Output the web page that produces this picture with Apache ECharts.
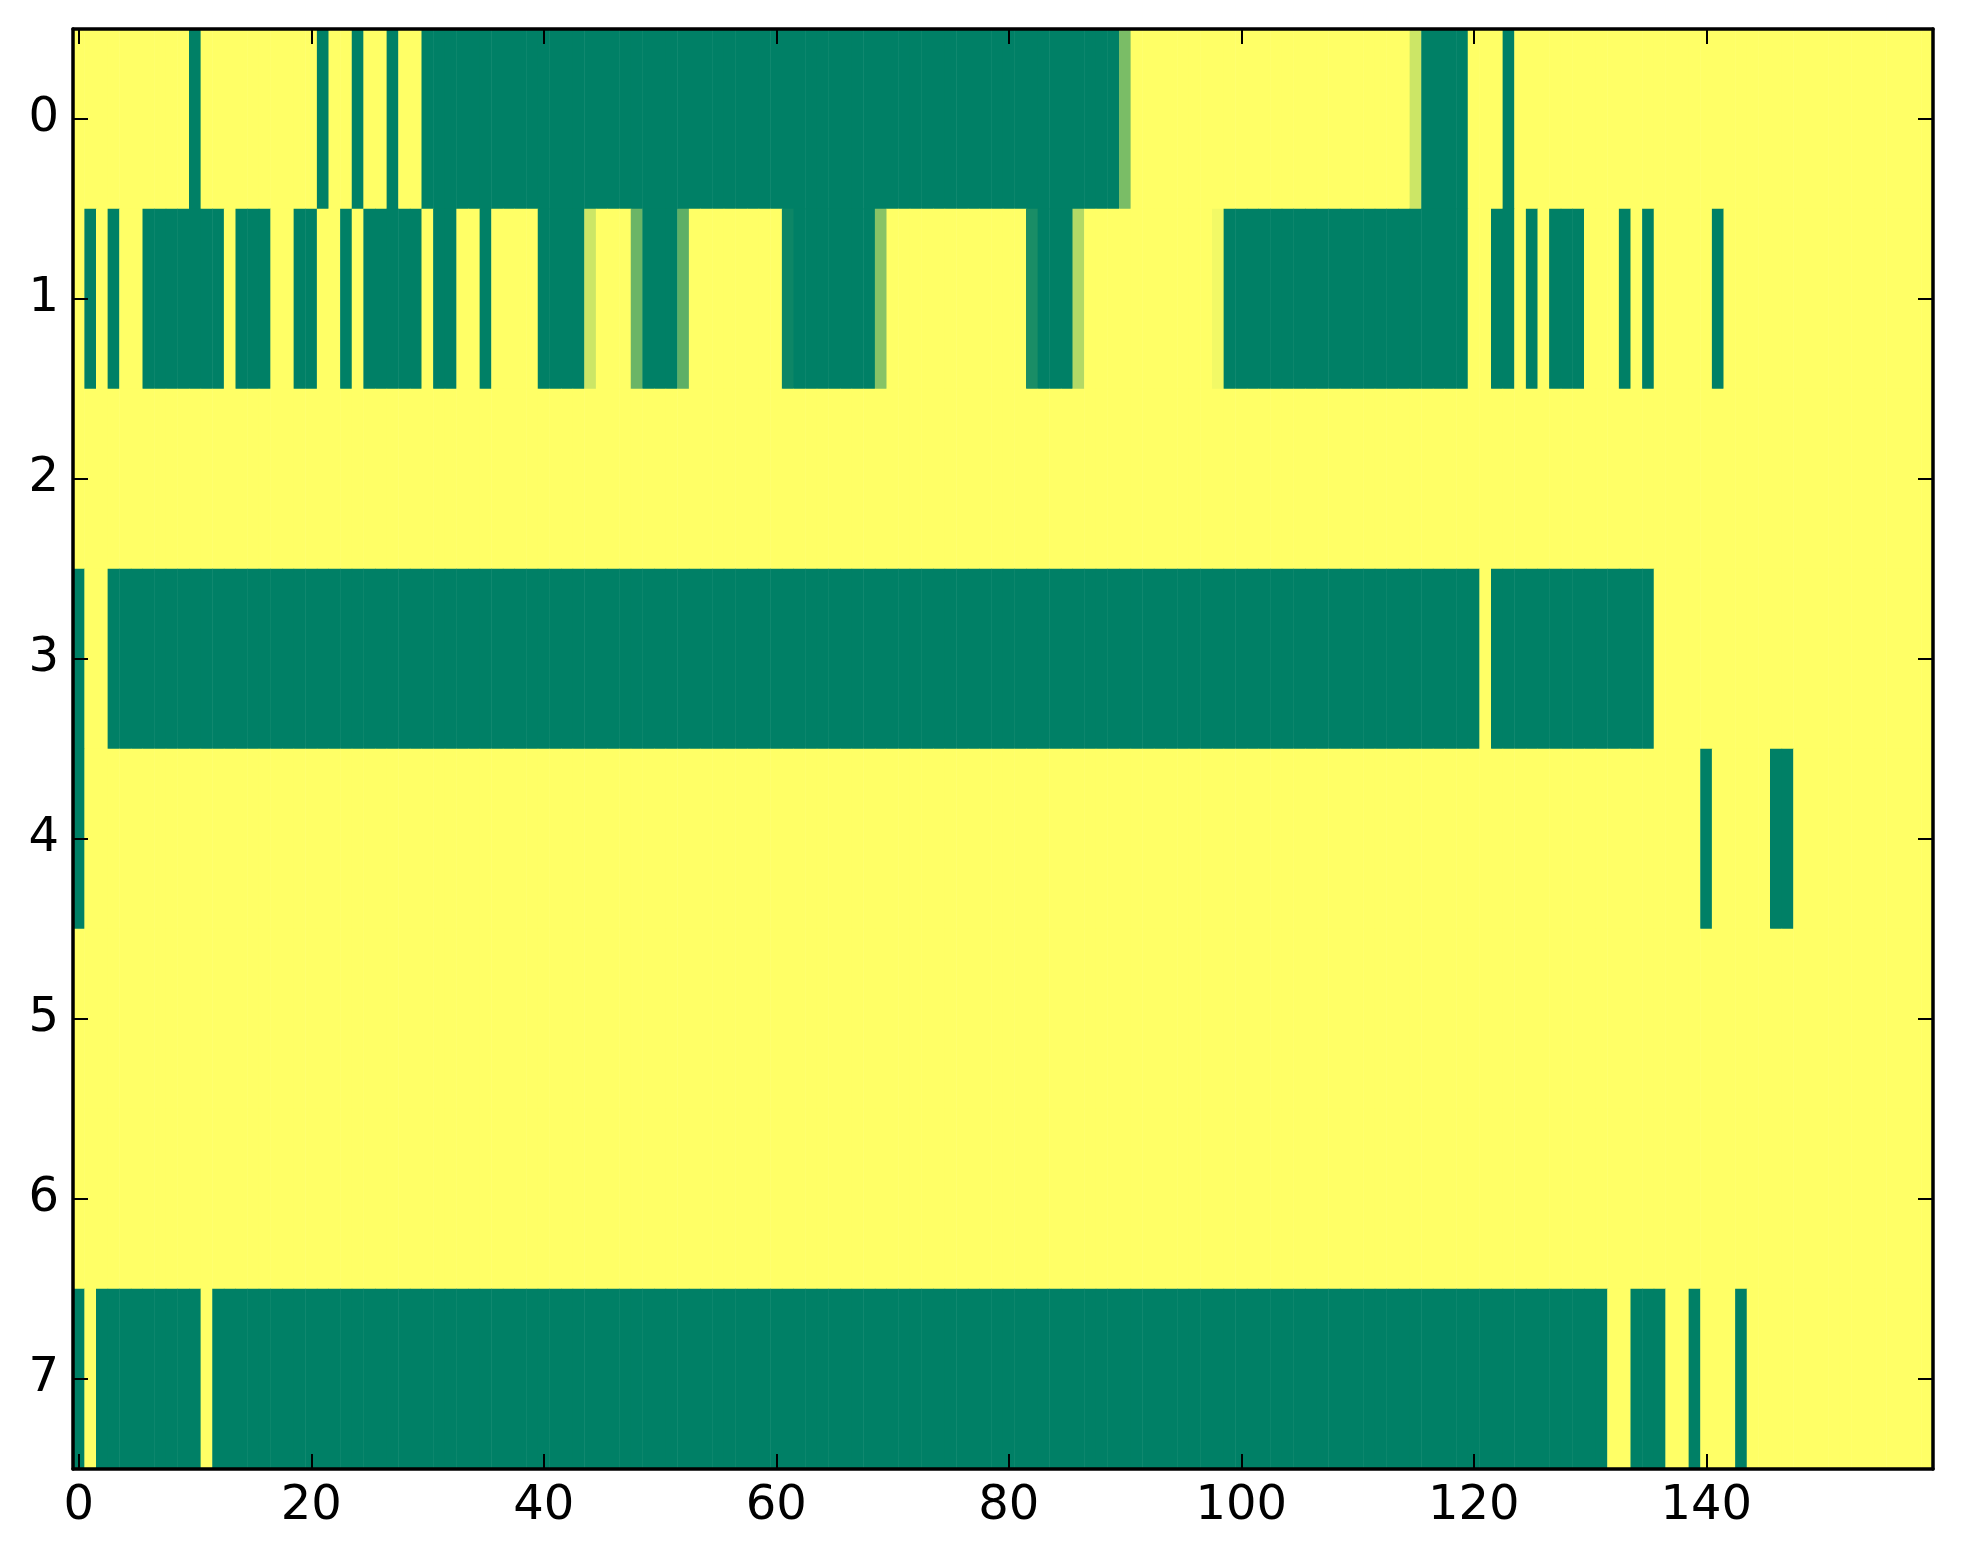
<!DOCTYPE html>
<html>
<head>
<meta charset="utf-8">
<script src="https://cdn.jsdelivr.net/npm/echarts@6/dist/echarts.min.js"></script>
<style>
  html, body { margin: 0; padding: 0; background: #fff; }
  #chart { width: 1963px; height: 1564px; }
</style>
</head>
<body>
<div id="chart"></div>
<script>
// one array per image row, 160 cells each (0 = green, 1 = yellow)
const row0 = [
  1,1,1,1,1,1,1,1,1,1,0,1,1,1,1,1,1,1,1,1,
  1,0,1,1,0,1,1,0,1,1,0,0,0,0,0,0,0,0,0,0,
  0,0,0,0,0,0,0,0,0,0,0,0,0,0,0,0,0,0,0,0,
  0,0,0,0,0,0,0,0,0,0,0,0,0,0,0,0,0,0,0,0,
  0,0,0,0,0,0,0,0,0,0,0.48,1,1,1,1,1,1,1,1,1,
  1,1,1,1,1,1,1,1,1,1,1,1,1,1,1,0.8,0,0,0,0,
  1,1,1,0,1,1,1,1,1,1,1,1,1,1,1,1,1,1,1,1,
  1,1,1,1,1,1,1,1,1,1,1,1,1,1,1,1,1,1,1,1
];
const row1 = [
  1,0,1,0,1,1,0,0,0,0,0,0,0,1,0,0,0,1,1,0,
  0,1,1,0,1,0,0,0,0,0,1,0,0,1,1,0,1,1,1,1,
  0,0,0,0,0.8,1,1,1,0.42,0,0,0,0.37,1,1,1,1,1,1,1,
  1,0.05,0,0,0,0,0,0,0,0.53,1,1,1,1,1,1,1,1,1,1,
  1,1,0.1,0,0,0,0.7,1,1,1,1,1,1,1,1,1,1,1,0.95,0,
  0,0,0,0,0,0,0,0,0,0,0,0,0,0,0,0,0,0,0,0,
  1,1,0,0,1,0,1,0,0,0,1,1,1,0,1,0,1,1,1,1,
  1,0,1,1,1,1,1,1,1,1,1,1,1,1,1,1,1,1,1,1
];
const row2 = [
  1,1,1,1,1,1,1,1,1,1,1,1,1,1,1,1,1,1,1,1,
  1,1,1,1,1,1,1,1,1,1,1,1,1,1,1,1,1,1,1,1,
  1,1,1,1,1,1,1,1,1,1,1,1,1,1,1,1,1,1,1,1,
  1,1,1,1,1,1,1,1,1,1,1,1,1,1,1,1,1,1,1,1,
  1,1,1,1,1,1,1,1,1,1,1,1,1,1,1,1,1,1,1,1,
  1,1,1,1,1,1,1,1,1,1,1,1,1,1,1,1,1,1,1,1,
  1,1,1,1,1,1,1,1,1,1,1,1,1,1,1,1,1,1,1,1,
  1,1,1,1,1,1,1,1,1,1,1,1,1,1,1,1,1,1,1,1
];
const row3 = [
  0,1,1,0,0,0,0,0,0,0,0,0,0,0,0,0,0,0,0,0,
  0,0,0,0,0,0,0,0,0,0,0,0,0,0,0,0,0,0,0,0,
  0,0,0,0,0,0,0,0,0,0,0,0,0,0,0,0,0,0,0,0,
  0,0,0,0,0,0,0,0,0,0,0,0,0,0,0,0,0,0,0,0,
  0,0,0,0,0,0,0,0,0,0,0,0,0,0,0,0,0,0,0,0,
  0,0,0,0,0,0,0,0,0,0,0,0,0,0,0,0,0,0,0,0,
  0,1,0,0,0,0,0,0,0,0,0,0,0,0,0,0,1,1,1,1,
  1,1,1,1,1,1,1,1,1,1,1,1,1,1,1,1,1,1,1,1
];
const row4 = [
  0,1,1,1,1,1,1,1,1,1,1,1,1,1,1,1,1,1,1,1,
  1,1,1,1,1,1,1,1,1,1,1,1,1,1,1,1,1,1,1,1,
  1,1,1,1,1,1,1,1,1,1,1,1,1,1,1,1,1,1,1,1,
  1,1,1,1,1,1,1,1,1,1,1,1,1,1,1,1,1,1,1,1,
  1,1,1,1,1,1,1,1,1,1,1,1,1,1,1,1,1,1,1,1,
  1,1,1,1,1,1,1,1,1,1,1,1,1,1,1,1,1,1,1,1,
  1,1,1,1,1,1,1,1,1,1,1,1,1,1,1,1,1,1,1,1,
  0,1,1,1,1,1,0,0,1,1,1,1,1,1,1,1,1,1,1,1
];
const row5 = [
  1,1,1,1,1,1,1,1,1,1,1,1,1,1,1,1,1,1,1,1,
  1,1,1,1,1,1,1,1,1,1,1,1,1,1,1,1,1,1,1,1,
  1,1,1,1,1,1,1,1,1,1,1,1,1,1,1,1,1,1,1,1,
  1,1,1,1,1,1,1,1,1,1,1,1,1,1,1,1,1,1,1,1,
  1,1,1,1,1,1,1,1,1,1,1,1,1,1,1,1,1,1,1,1,
  1,1,1,1,1,1,1,1,1,1,1,1,1,1,1,1,1,1,1,1,
  1,1,1,1,1,1,1,1,1,1,1,1,1,1,1,1,1,1,1,1,
  1,1,1,1,1,1,1,1,1,1,1,1,1,1,1,1,1,1,1,1
];
const row6 = [
  1,1,1,1,1,1,1,1,1,1,1,1,1,1,1,1,1,1,1,1,
  1,1,1,1,1,1,1,1,1,1,1,1,1,1,1,1,1,1,1,1,
  1,1,1,1,1,1,1,1,1,1,1,1,1,1,1,1,1,1,1,1,
  1,1,1,1,1,1,1,1,1,1,1,1,1,1,1,1,1,1,1,1,
  1,1,1,1,1,1,1,1,1,1,1,1,1,1,1,1,1,1,1,1,
  1,1,1,1,1,1,1,1,1,1,1,1,1,1,1,1,1,1,1,1,
  1,1,1,1,1,1,1,1,1,1,1,1,1,1,1,1,1,1,1,1,
  1,1,1,1,1,1,1,1,1,1,1,1,1,1,1,1,1,1,1,1
];
const row7 = [
  0,1,0,0,0,0,0,0,0,0,0,1,0,0,0,0,0,0,0,0,
  0,0,0,0,0,0,0,0,0,0,0,0,0,0,0,0,0,0,0,0,
  0,0,0,0,0,0,0,0,0,0,0,0,0,0,0,0,0,0,0,0,
  0,0,0,0,0,0,0,0,0,0,0,0,0,0,0,0,0,0,0,0,
  0,0,0,0,0,0,0,0,0,0,0,0,0,0,0,0,0,0,0,0,
  0,0,0,0,0,0,0,0,0,0,0,0,0,0,0,0,0,0,0,0,
  0,0,0,0,0,0,0,0,0,0,0,0,1,1,0,0,0,1,1,0,
  1,1,1,0,1,1,1,1,1,1,1,1,1,1,1,1,1,1,1,1
];

const rows = [row0, row1, row2, row3, row4, row5, row6, row7];
const rowLabels = ['0', '1', '2', '3', '4', '5', '6', '7'];
const xTickLabels = ['0', '20', '40', '60', '80', '100', '120', '140'];

const columns = row0.map((_, i) => String(i));
const cells = [];
rows.forEach((row, r) => {
  row.forEach((v, c) => cells.push([c, r, v]));
});

const font = 'DejaVu Sans';
const fontSize = 48;
const isXTick = (index) => xTickLabels.indexOf(columns[index]) !== -1;

// axes sit above the heatmap so the inward ticks and frame stay visible
function xAxisBase(position, showLabels) {
  return {
    type: 'category',
    position,
    z: 10,
    data: columns,
    boundaryGap: true,
    axisLine: { show: true, onZero: false, lineStyle: { color: '#000', width: 3.5 } },
    axisTick: {
      show: true,
      inside: true,
      length: 15,
      alignWithLabel: true,
      interval: (index) => isXTick(index),
      lineStyle: { color: '#000', width: 2 },
    },
    axisLabel: {
      show: showLabels,
      interval: (index) => isXTick(index),
      color: '#000',
      fontFamily: font,
      fontSize,
      margin: 14,
    },
    splitLine: { show: false },
  };
}

function yAxisBase(position, showLabels) {
  return {
    type: 'category',
    position,
    z: 10,
    data: rowLabels,
    inverse: true,
    boundaryGap: true,
    axisLine: { show: true, onZero: false, lineStyle: { color: '#000', width: 3.5 } },
    axisTick: {
      show: true,
      inside: true,
      length: 15,
      alignWithLabel: true,
      lineStyle: { color: '#000', width: 2 },
    },
    axisLabel: {
      show: showLabels,
      color: '#000',
      fontFamily: font,
      fontSize,
      margin: 14,
    },
    splitLine: { show: false },
  };
}

const chart = echarts.init(document.getElementById('chart'));
chart.setOption({
  animation: false,
  backgroundColor: '#fff',
  grid: { left: 73, right: 30, top: 29, bottom: 95 },
  xAxis: [xAxisBase('bottom', true), xAxisBase('top', false)],
  yAxis: [yAxisBase('left', true), yAxisBase('right', false)],
  visualMap: {
    show: false,
    type: 'continuous',
    min: 0,
    max: 1,
    dimension: 2,
    inRange: { color: ['#008066', '#ffff66'] },
  },
  series: [{
    type: 'heatmap',
    xAxisIndex: 0,
    yAxisIndex: 0,
    z: 1,
    data: cells,
    progressive: 0,
    itemStyle: { borderWidth: 0 },
    emphasis: { disabled: true },
  }],
});
</script>
</body>
</html>
